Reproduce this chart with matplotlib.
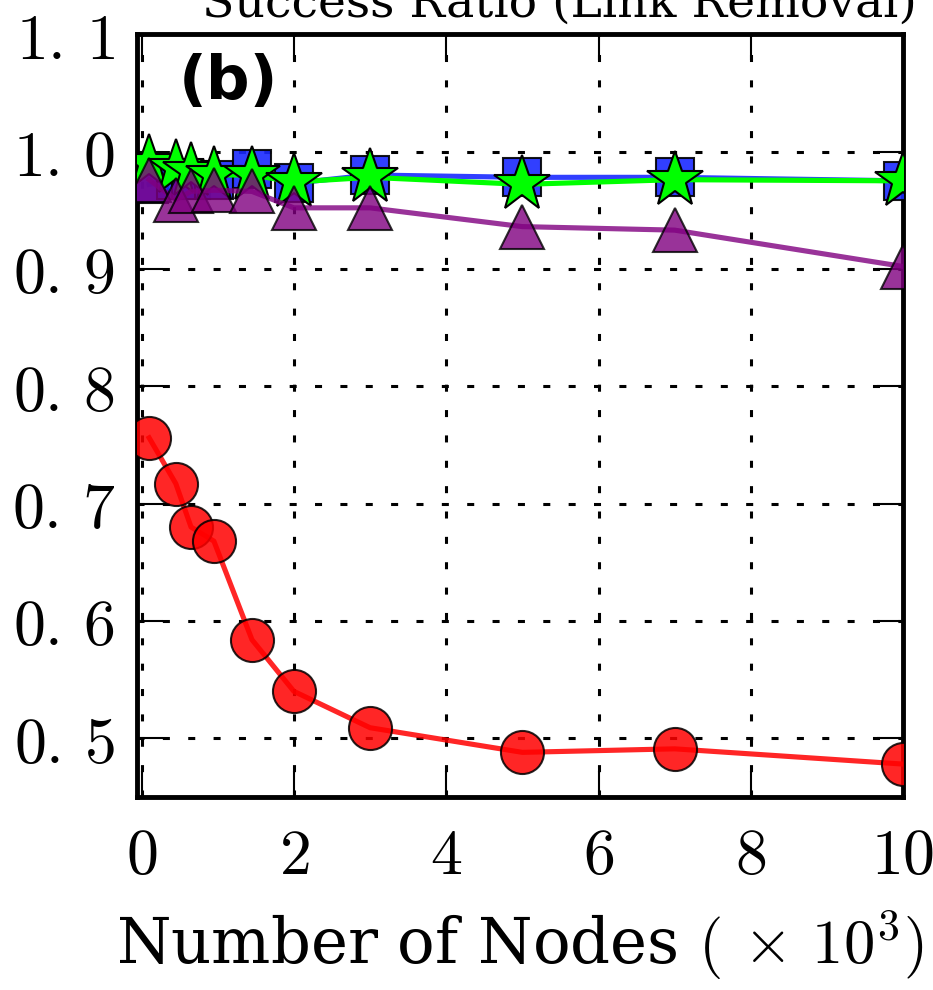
import numpy as np
import matplotlib.pyplot as plt
from matplotlib.ticker import FuncFormatter

plt.rcParams['mathtext.fontset'] = 'cm'

# number of nodes (x 10^3)
nodes = [0.1, 0.45, 0.65, 0.95, 1.45, 2, 3, 5, 7, 10]

ratio_red = [0.756, 0.717, 0.680, 0.668, 0.584, 0.540, 0.509, 0.488, 0.491, 0.478]
ratio_blue = [0.972, 0.976, 0.976, 0.976, 0.985, 0.973, 0.980, 0.978, 0.978, 0.975]
ratio_green = [0.990, 0.986, 0.983, 0.980, 0.980, 0.974, 0.978, 0.972, 0.976, 0.975]
ratio_purple = [0.976, 0.959, 0.966, 0.967, 0.966, 0.952, 0.952, 0.936, 0.933, 0.902]

x_ticks = [0, 2, 4, 6, 8, 10]
y_ticks = [0.5, 0.6, 0.7, 0.8, 0.9, 1.0, 1.1]


def yfmt(v, p):
    a, b = ('%.1f' % v).split('.')
    return r'$%s.\,%s$' % (a, b)


fig = plt.figure(figsize=(9.33, 9.9), dpi=100)
ax = fig.add_axes([0.1468, 0.195, 0.8212, 0.7705])

lw = 3.7
ax.plot(nodes, ratio_red, color='red', lw=lw, marker='o', ms=31,
        mfc='red', mec='black', mew=1.5, alpha=0.85, zorder=3)
ax.plot(nodes, ratio_blue, color='#1a2aff', lw=lw, marker='s', ms=27,
        mfc='#1a2aff', mec='black', mew=1.5, alpha=0.9, zorder=3)
ax.plot(nodes, ratio_green, color='#00ff00', lw=lw, marker='*', ms=42,
        mfc='#00ff00', mec='black', mew=1.5, zorder=4)
ax.plot(nodes, ratio_purple, color='purple', lw=lw, marker='^', ms=31,
        mfc='purple', mec='black', mew=1.5, alpha=0.8, zorder=5)

ax.set_xlim(-0.06, 10)
ax.set_ylim(0.45, 1.1)
ax.set_xticks(x_ticks)
ax.set_yticks(y_ticks)
ax.xaxis.set_major_formatter(FuncFormatter(lambda v, p: r'$%d$' % v))
ax.yaxis.set_major_formatter(FuncFormatter(yfmt))
ax.tick_params(direction='in', length=19, width=1.5, labelsize=46,
               top=True, right=True, pad=16)
ax.tick_params(axis='x', pad=20)
for s in ax.spines.values():
    s.set_linewidth(3.5)

ax.grid(True, color='black', linestyle=(0, (2.3, 6)), linewidth=2.2)

ax.text(0.055, 0.975, '(b)', transform=ax.transAxes, fontsize=44,
        fontweight='bold', va='top', ha='left', family='DejaVu Sans')

ax.set_xlabel(r'Number of Nodes $(\,\times\,10^3)$', fontsize=45,
              family='DejaVu Serif', labelpad=16)

fig.text(0.6, 0.983, 'Success Ratio (Link Removal)', fontsize=34,
         family='DejaVu Serif', ha='center', va='baseline')

fig.savefig('out.png', dpi=100)
